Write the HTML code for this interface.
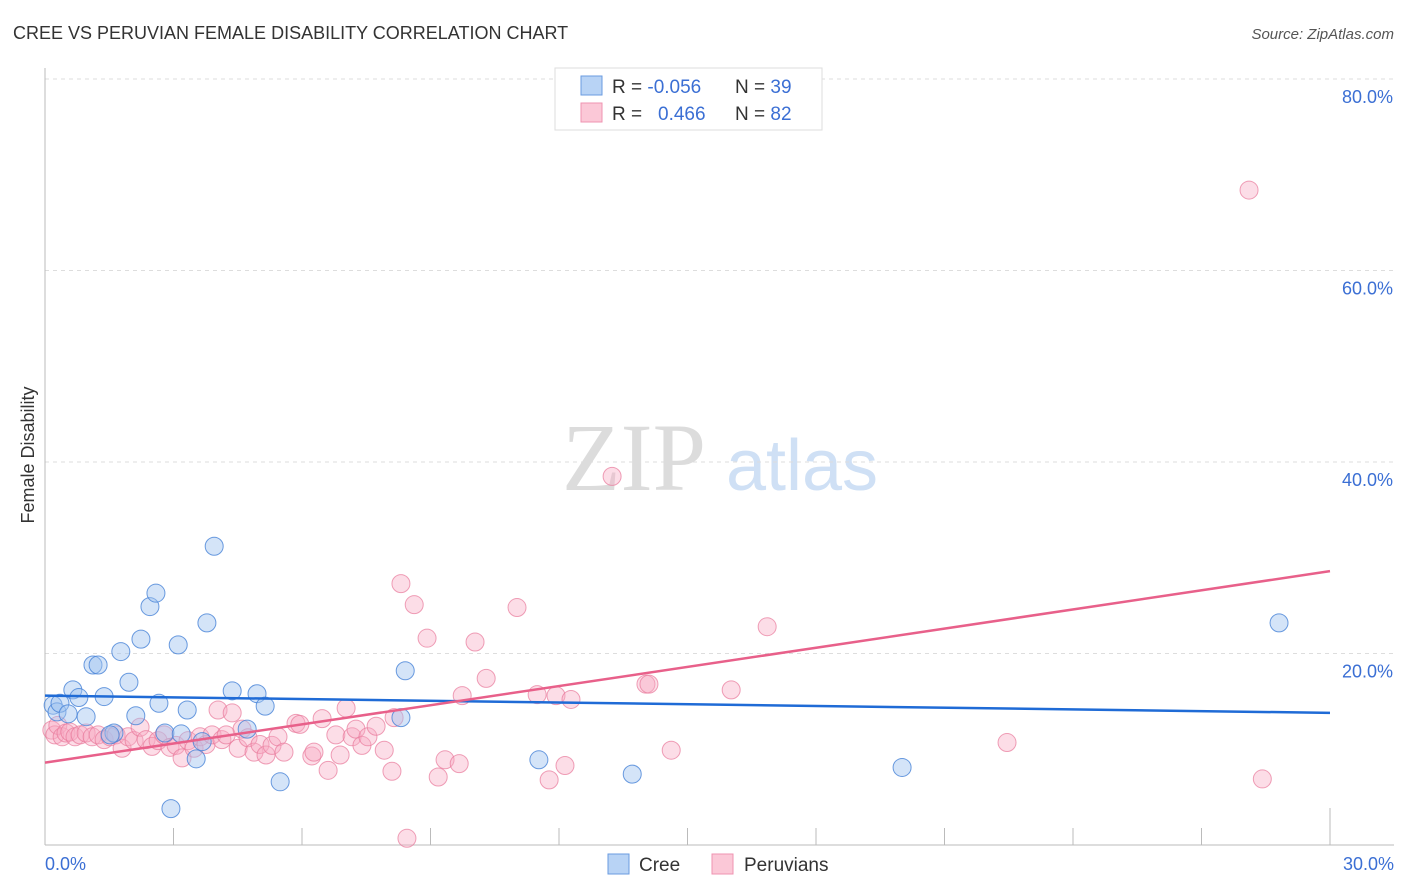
<!DOCTYPE html>
<html><head><meta charset="utf-8"><style>
body{margin:0;background:#fff;font-family:"Liberation Sans",sans-serif;}
svg{display:block}
</style></head><body>
<svg id="chart" width="1406" height="892" xmlns="http://www.w3.org/2000/svg">
<text x="13" y="39" font-size="18" fill="#333">CREE VS PERUVIAN FEMALE DISABILITY CORRELATION CHART</text>
<text x="1394" y="39" font-size="15" fill="#555" font-style="italic" text-anchor="end">Source: ZipAtlas.com</text>
<g>
<text x="634" y="490" font-size="96" fill="#dcdcdc" font-family="Liberation Serif, serif" text-anchor="middle">ZIP</text>
<text x="802" y="490" font-size="72" fill="#cfe0f5" text-anchor="middle">atlas</text>
</g>
<g id="grid"></g>
<g id="axes"></g>
<g id="pts"></g>
<g id="lines"></g>
<text transform="translate(34,455) rotate(-90)" font-size="18" fill="#333" text-anchor="middle">Female Disability</text>
<text x="45" y="870" font-size="18" fill="#3b6fd4">0.0%</text>
<text x="1394" y="870" font-size="18" fill="#3b6fd4" text-anchor="end">30.0%</text>
<g>
<rect x="555" y="68" width="267" height="62" fill="#fff" stroke="#ddd"/>
<rect x="581" y="76" width="21" height="19" fill="#b8d3f5" stroke="#6a9be0"/>
<rect x="581" y="103" width="21" height="19" fill="#fbc8d7" stroke="#ef93b0"/>
<text x="612" y="93" font-size="19" fill="#333">R = <tspan fill="#3b6fd4">-0.056</tspan></text>
<text x="735" y="93" font-size="19" fill="#333">N = <tspan fill="#3b6fd4">39</tspan></text>
<text x="612" y="120" font-size="19" fill="#333">R = <tspan fill="#3b6fd4" x="658">0.466</tspan></text>
<text x="735" y="120" font-size="19" fill="#333">N = <tspan fill="#3b6fd4">82</tspan></text>
</g>
<g>
<rect x="608" y="854" width="21" height="20" fill="#b8d3f5" stroke="#6a9be0"/>
<text x="639" y="871" font-size="19" fill="#333">Cree</text>
<rect x="712" y="854" width="21" height="20" fill="#fbc8d7" stroke="#ef93b0"/>
<text x="744" y="871" font-size="19" fill="#333">Peruvians</text>
</g>
</svg>
<script>
const yTicks=[20,40,60,80];
const xTicks=[0,3,6,9,12,15,18,21,24,27,30];
const creeX=[0.19,0.28,0.35,0.54,0.65,0.79,0.96,1.12,1.24,1.38,1.61,1.77,1.96,2.12,2.24,2.45,2.59,2.66,2.80,3.11,3.18,3.32,3.53,3.67,3.78,3.95,4.37,4.72,4.95,5.14,5.49,8.41,8.31,2.94,11.53,13.71,20.01,28.81,1.52];
const creeY=[14.6,13.9,14.8,13.7,16.2,15.4,13.4,18.8,18.8,15.5,11.7,20.2,17.0,13.5,21.5,24.9,26.3,14.8,11.7,20.9,11.6,14.1,9.0,10.8,23.2,31.2,16.1,12.1,15.8,14.5,6.6,18.2,13.3,3.8,8.9,7.4,8.1,23.2,11.5];
const peruX=[0.16,0.23,0.30,0.40,0.49,0.58,0.70,0.82,0.96,1.10,1.24,1.38,1.52,1.66,1.80,1.94,2.08,2.22,2.36,2.50,2.64,2.78,2.92,3.06,3.20,3.34,3.48,3.62,3.76,3.90,4.04,4.13,4.23,4.37,4.51,4.60,4.74,4.88,5.02,5.16,5.30,5.44,5.58,5.86,5.95,6.23,6.28,6.47,6.61,6.79,6.89,7.03,7.17,7.26,7.40,7.54,7.73,7.92,8.10,8.15,8.31,8.62,8.92,9.18,9.34,9.67,9.74,10.04,10.30,11.02,11.49,11.77,11.93,12.14,12.28,13.24,14.03,14.10,14.62,16.02,16.86,22.46,28.11,28.42,8.45];
const peruY=[12.0,11.5,12.5,11.3,11.7,11.8,11.3,11.5,11.7,11.3,11.5,11.0,11.3,11.5,10.1,11.3,10.9,12.3,11.0,10.3,10.9,11.5,10.2,10.4,9.1,10.9,10.1,11.3,10.5,11.5,14.1,11.0,11.5,13.8,10.1,12.1,11.2,9.7,10.5,9.4,10.4,11.3,9.7,12.7,12.6,9.3,9.7,13.2,7.8,11.5,9.4,14.3,11.3,12.1,10.4,11.3,12.4,9.9,7.7,13.3,27.3,25.1,21.6,7.1,8.9,8.5,15.6,21.2,17.4,24.8,15.7,6.8,15.6,8.3,15.2,38.5,16.8,16.8,9.9,16.2,22.8,10.7,68.4,6.9,0.7];
const creeTrend=[15.6,13.8];
const peruTrend=[8.6,28.6];
const NS='http://www.w3.org/2000/svg';
const X=v=>45+v/30*1285;
const Y=v=>845-v/20*191.5;
function mk(t,a,p){const e=document.createElementNS(NS,t);for(const k in a)e.setAttribute(k,a[k]);p.appendChild(e);return e;}
const grid=document.getElementById('grid'),axes=document.getElementById('axes'),pts=document.getElementById('pts'),lines=document.getElementById('lines');
yTicks.forEach(t=>{
const l=mk('line',{x1:45,x2:1394,y1:Y(t),y2:Y(t),stroke:'#ddd','stroke-dasharray':'4,4'},grid);


const tx=mk('text',{x:1393,y:Y(t)+24,'font-size':18,fill:'#3b6fd4','text-anchor':'end'},grid);
tx.textContent=t.toFixed(1)+'%';


});
const ax=mk('line',{x1:45,x2:1394,y1:845,y2:845,stroke:'#bbb'},axes);


const ay=mk('line',{x1:45,x2:45,y1:68,y2:845,stroke:'#bbb'},axes);


xTicks.forEach(t=>{
const l=mk('line',{x1:X(t),x2:X(t),y1:t===30?808:828,y2:845,stroke:'#bbb'},axes);


});
peruX.forEach((v,i)=>{
const c=mk('circle',{cx:X(v),cy:Y(peruY[i]),r:9,fill:'rgba(247,170,195,0.4)',stroke:'rgba(232,120,154,0.7)','stroke-width':1},pts);


});
creeX.forEach((v,i)=>{
const c=mk('circle',{cx:X(v),cy:Y(creeY[i]),r:9,fill:'rgba(160,195,240,0.45)',stroke:'rgba(70,130,215,0.8)','stroke-width':1},pts);


});
const tb=mk('line',{x1:X(0),x2:X(30),y1:Y(creeTrend[0]),y2:Y(creeTrend[1]),stroke:'#1f6bd6','stroke-width':2.5},lines);


const tp=mk('line',{x1:X(0),x2:X(30),y1:Y(peruTrend[0]),y2:Y(peruTrend[1]),stroke:'#e8608a','stroke-width':2.5},lines);


</script>
</body></html>
